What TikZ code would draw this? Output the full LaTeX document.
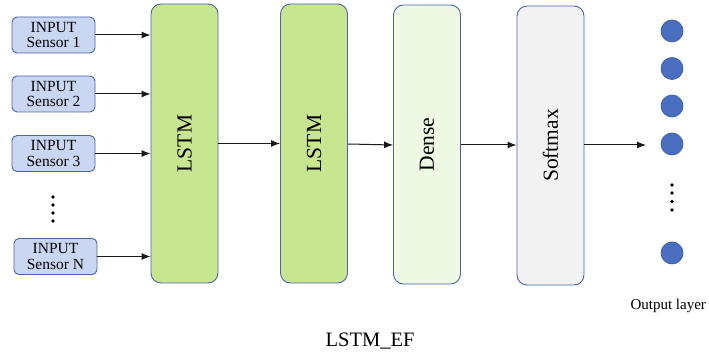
\documentclass[tikz,border=0pt]{standalone}
\usepackage{fontspec}
\setmainfont{Liberation Serif}
\usetikzlibrary{arrows.meta}
\definecolor{bord}{HTML}{4A64A8}
\definecolor{inpfill}{HTML}{C9D7F3}
\definecolor{lstmfill}{HTML}{C8E690}
\definecolor{densefill}{HTML}{EEF8E3}
\definecolor{softfill}{HTML}{F2F2F2}
\definecolor{outfill}{HTML}{4A6FC0}
\definecolor{outbord}{HTML}{3D5CA6}
\tikzset{
  inbox/.style={draw=bord, line width=0.9pt, fill=inpfill, rounded corners=5pt,
    minimum width=83pt, minimum height=36pt, inner sep=0pt, align=center,
    font=\fontsize{15.5}{15.5}\selectfont},
  layer/.style={draw=bord, line width=0.9pt, rounded corners=10pt,
    minimum width=67pt, minimum height=279pt, inner sep=0pt},
  laytext/.style={rotate=90, font=\fontsize{21.5}{22}\selectfont},
  arr/.style={-{Latex[length=9pt,width=7pt]}, line width=1pt, draw=black!90},
  outnode/.style={circle, draw=outbord, line width=0.7pt, fill=outfill, minimum size=22pt, inner sep=0pt},
  dot/.style={circle, fill=black, minimum size=3.6pt, inner sep=0pt},
}
\begin{document}
\begin{tikzpicture}[x=1pt,y=-1pt]
\useasboundingbox (0,0) rectangle (709,355);
% inputs
\node[inbox] (in1) at (53.5,35) {INPUT\\Sensor 1};
\node[inbox] (in2) at (53.5,94) {INPUT\\Sensor 2};
\node[inbox] (in3) at (53.5,153.5) {INPUT\\Sensor 3};
\node[inbox] (inN) at (55.5,256.5) {INPUT\\Sensor N};
\foreach \i/\yy in {1/197,2/205,3/213,4/221}
  \node[dot] (ld\i) at (53,\yy) {};
% layers
\node[layer, fill=lstmfill] (lstm1) at (184.5,143.5) {};
\node[laytext] (t1) at (lstm1.center) {LSTM};
\node[layer, fill=lstmfill] (lstm2) at (314,143.5) {};
\node[laytext] (t2) at (lstm2.center) {LSTM};
\node[layer, fill=densefill] (dense) at (427,144.5) {};
\node[laytext] (t3) at (dense.center) {Dense};
\node[layer, fill=softfill] (soft) at (550.5,145.5) {};
\node[laytext] (t4) at (soft.center) {Softmax};
% arrows
\draw[arr] (in1.east) -- (in1.east -| lstm1.west);
\draw[arr] (in2.east) -- (in2.east -| lstm1.west);
\draw[arr] (in3.east) -- (in3.east -| lstm1.west);
\draw[arr] (inN.east) -- (inN.east -| lstm1.west);
\draw[arr] (lstm1.east |- 0,143.5) -- (lstm2.west |- 0,143.5);
\draw[arr] (lstm2.east |- 0,144) -- (dense.west |- 0,145);
\draw[arr] (dense.east |- 0,145) -- (soft.west |- 0,145);
\coordinate (outend) at (646,145);
\draw[arr] (soft.east |- outend) -- (outend);
% outputs
\node[outnode] (o1) at (672,31) {};
\node[outnode] (o2) at (672,68.5) {};
\node[outnode] (o3) at (672,106) {};
\node[outnode] (o4) at (672,144) {};
\node[outnode] (o5) at (672,253) {};
\foreach \i/\yy in {1/185,2/193,3/201.5,4/210}
  \node[dot] (rd\i) at (672,\yy) {};
\node[anchor=west, font=\fontsize{15}{16}\selectfont] (outlab) at (627,306) {Output layer};
\node[font=\fontsize{20.5}{21}\selectfont] (title) at (370,341) {LSTM\_EF};
\end{tikzpicture}
\end{document}
